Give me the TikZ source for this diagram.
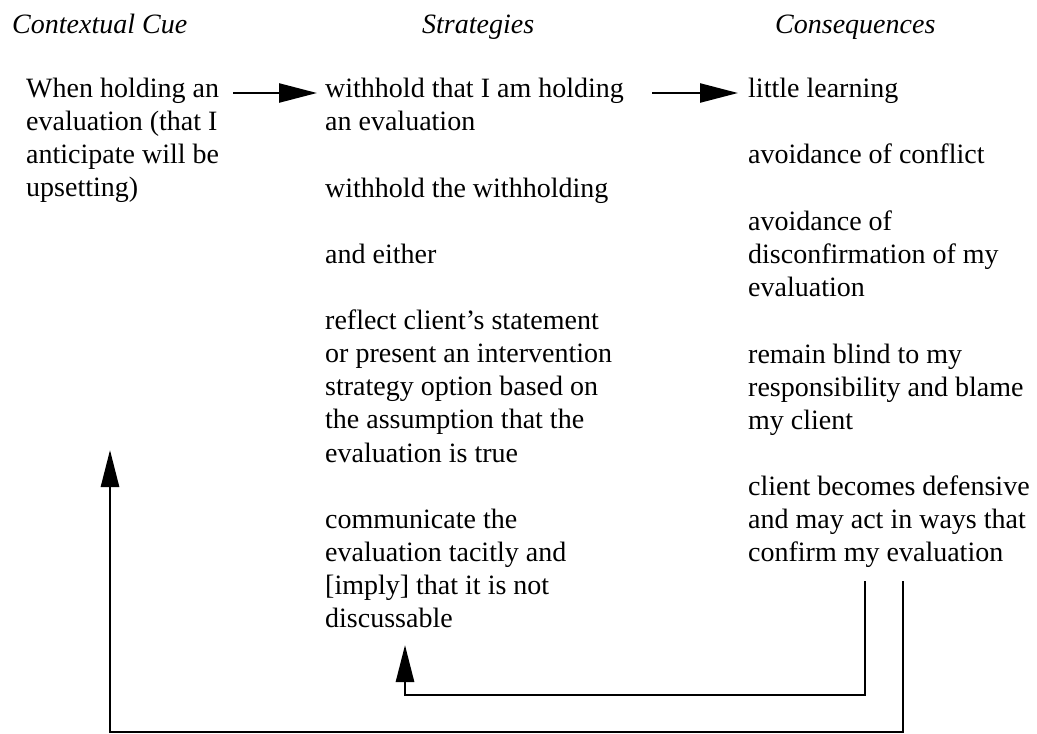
\documentclass[tikz,border=0pt]{standalone}
\usepackage{fontspec}
\setmainfont{Liberation Serif}
\usetikzlibrary{arrows.meta}
% fixed first-line height so that north anchors sit a known distance above the first baseline
\newcommand\firstht{\rule{0pt}{21pt}}
\begin{document}
\begin{tikzpicture}[x=1pt,y=-1pt,
  txt/.style={anchor=north west, inner sep=0pt, align=left,
    font=\fontsize{28}{33.2}\selectfont},
  colhead/.style={anchor=base west, inner sep=0pt,
    font=\fontsize{28}{33.2}\selectfont\itshape},
  flow/.style={line width=2.4pt, -{Triangle[length=38pt,width=19pt]}},
  loopback/.style={line width=2.8pt, -{Triangle[length=37pt,width=18pt]}}]
\useasboundingbox (0,0) rectangle (1037,734);

% column headings
\node[colhead] (hcue)  at (12,33)  {Contextual Cue};
\node[colhead] (hstr)  at (422,33) {Strategies};
\node[colhead] (hcons) at (775,33) {Consequences};

% contextual cue
\node[txt] (cue) at (26,76) {\firstht When holding an\\evaluation (that I\\anticipate will be\\upsetting)};

% strategies
\node[txt] (s1) at (325,76)  {\firstht withhold that I am holding\\an evaluation};
\node[txt] (s2) at (325,176) {\firstht withhold the withholding};
\node[txt] (s3) at (325,242) {\firstht and either};
\node[txt] (s4) at (325,308) {\firstht reflect client's statement\\or present an intervention\\strategy option based on\\the assumption that the\\evaluation is true};
\node[txt] (s5) at (325,507) {\firstht communicate the\\evaluation tacitly and\\{[}imply{]} that it is not\\discussable};

% consequences
\node[txt] (c1) at (748,76)  {\firstht little learning};
\node[txt] (c2) at (748,142) {\firstht avoidance of conflict};
\node[txt] (c3) at (748,209) {\firstht avoidance of\\disconfirmation of my\\evaluation};
\node[txt] (c4) at (748,342) {\firstht remain blind to my\\responsibility and blame\\my client};
\node[txt] (c5) at (748,474) {\firstht client becomes defensive\\and may act in ways that\\confirm my evaluation};

% forward arrows
\coordinate (row1) at (0,93);
\draw[flow] ([xshift=14pt]cue.east |- row1) -- ([xshift=-8pt]s1.west |- row1);
\draw[flow] (652,93) coordinate (a2) -- ([xshift=-10pt]c1.west |- a2);

% feedback loops
\coordinate (inTop)  at (865,581);
\coordinate (inBot)  at (865,695);
\coordinate (inTip)  at (405,645);
\coordinate (outTop) at (903,581);
\coordinate (outBot) at (903,732);
\coordinate (outTip) at (110,450);
\draw[loopback] (inTop) -- (inBot) -| (inTip);
\draw[loopback] (outTop) -- (outBot) -| (outTip);
\end{tikzpicture}
\end{document}
